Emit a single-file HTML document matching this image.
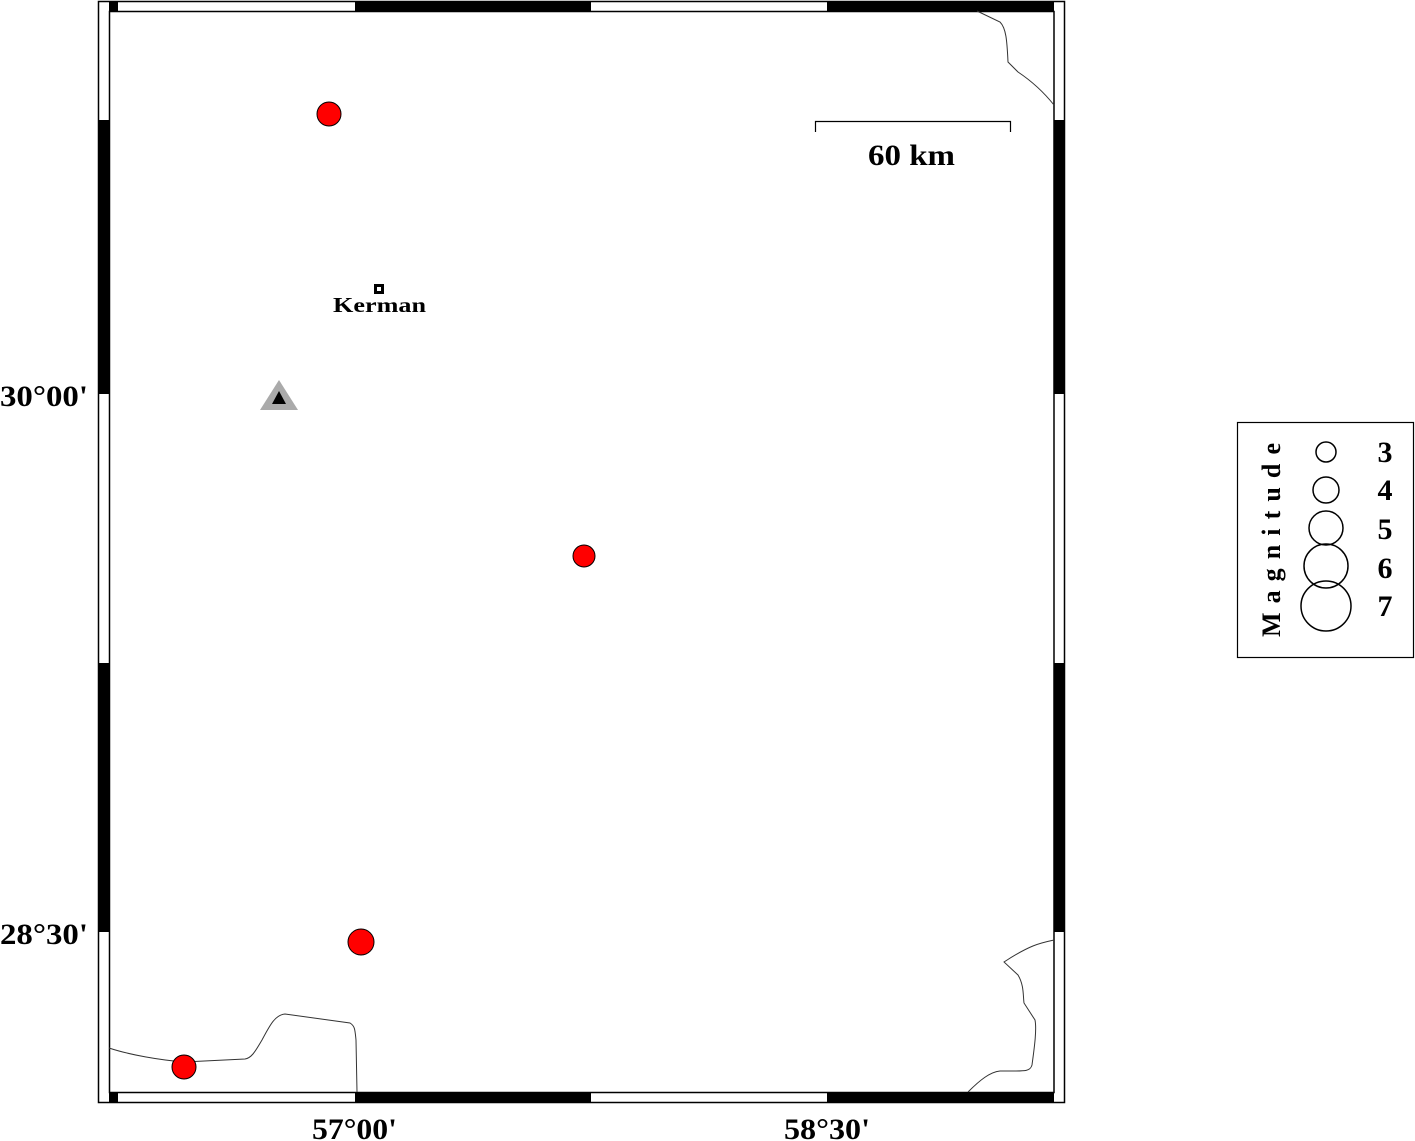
<!DOCTYPE html>
<html><head><meta charset="utf-8"><style>html,body{margin:0;padding:0;background:#fff}svg{display:block}</style></head>
<body>
<svg width="1415" height="1141" viewBox="0 0 1415 1141" xmlns="http://www.w3.org/2000/svg" font-family="'Liberation Serif',serif" font-weight="bold">
<rect x="0" y="0" width="1415" height="1141" fill="#fff"/>
<rect x="98.5" y="1.5" width="966" height="1101" fill="#fff" stroke="#000" stroke-width="1.5"/>
<rect x="109" y="2" width="9" height="9" fill="#000"/>
<rect x="355" y="2" width="236" height="9" fill="#000"/>
<rect x="827" y="2" width="227" height="9" fill="#000"/>
<rect x="109" y="1093" width="9" height="9" fill="#000"/>
<rect x="355" y="1093" width="236" height="9" fill="#000"/>
<rect x="827" y="1093" width="227" height="9" fill="#000"/>
<rect x="99" y="120" width="10" height="274" fill="#000"/>
<rect x="99" y="663" width="10" height="269" fill="#000"/>
<rect x="1054" y="120" width="10" height="274" fill="#000"/>
<rect x="1054" y="663" width="10" height="269" fill="#000"/>
<rect x="109.5" y="11.5" width="944.5" height="1081" fill="none" stroke="#000" stroke-width="1.5"/>
<g fill="none" stroke="#333" stroke-width="1">
<path d="M109,1048 C130,1055 160,1060 184,1062 L245,1059 C252,1058 256,1050 262,1040 C270,1025 275,1015 285,1014 L350,1023 C355,1026 355,1030 356,1040 L357,1092"/>
<path d="M1054,940 C1040,943 1030,945 1004,962 L1018,975 C1024,985 1023,995 1024,1003 L1035,1020 C1037,1030 1034,1050 1032,1065 C1030,1072 1025,1071 1000,1071 C990,1072 980,1080 968,1092"/>
<path d="M977,11 L1000,22 C1006,28 1007,40 1008,62 L1018,72 C1030,80 1042,90 1054,105"/>
</g>
<path d="M815.5,132 V121.5 H1010.5 V132" fill="none" stroke="#000" stroke-width="1.2"/>
<text x="868" y="165" font-size="30" textLength="87" lengthAdjust="spacingAndGlyphs">60 km</text>
<rect x="374" y="284" width="10" height="10" fill="#000"/>
<rect x="377" y="287" width="4" height="4" fill="#fff"/>
<text x="333" y="312" font-size="21" textLength="93" lengthAdjust="spacingAndGlyphs">Kerman</text>
<polygon points="279,380 298,410 260,410" fill="#aaa"/>
<polygon points="279,391 286,404 272,404" fill="#000"/>
<g fill="#f00" stroke="#000" stroke-width="1">
<circle cx="329" cy="114" r="12"/>
<circle cx="584" cy="556" r="11"/>
<circle cx="361" cy="942" r="13"/>
<circle cx="184" cy="1067" r="12"/>
</g>
<g font-size="30">
<text x="0" y="406" textLength="88" lengthAdjust="spacingAndGlyphs">30°00'</text>
<text x="0" y="944" textLength="88" lengthAdjust="spacingAndGlyphs">28°30'</text>
<text x="312" y="1139" textLength="85" lengthAdjust="spacingAndGlyphs">57°00'</text>
<text x="784" y="1139" textLength="86" lengthAdjust="spacingAndGlyphs">58°30'</text>
</g>
<rect x="1237.5" y="422.5" width="176" height="235" fill="#fff" stroke="#000" stroke-width="1.2"/>
<text transform="translate(1280,637) rotate(-90)" font-size="26" textLength="194" lengthAdjust="spacing">Magnitude</text>
<g fill="none" stroke="#000" stroke-width="1.5">
<circle cx="1326" cy="452" r="10"/>
<circle cx="1326" cy="490" r="13"/>
<circle cx="1326" cy="528" r="17"/>
<circle cx="1326" cy="566" r="22"/>
<circle cx="1326" cy="606" r="25"/>
</g>
<g font-size="30" text-anchor="middle">
<text x="1385" y="462">3</text>
<text x="1385" y="500">4</text>
<text x="1385" y="539">5</text>
<text x="1385" y="578">6</text>
<text x="1385" y="616">7</text>
</g>
</svg>
</body></html>
